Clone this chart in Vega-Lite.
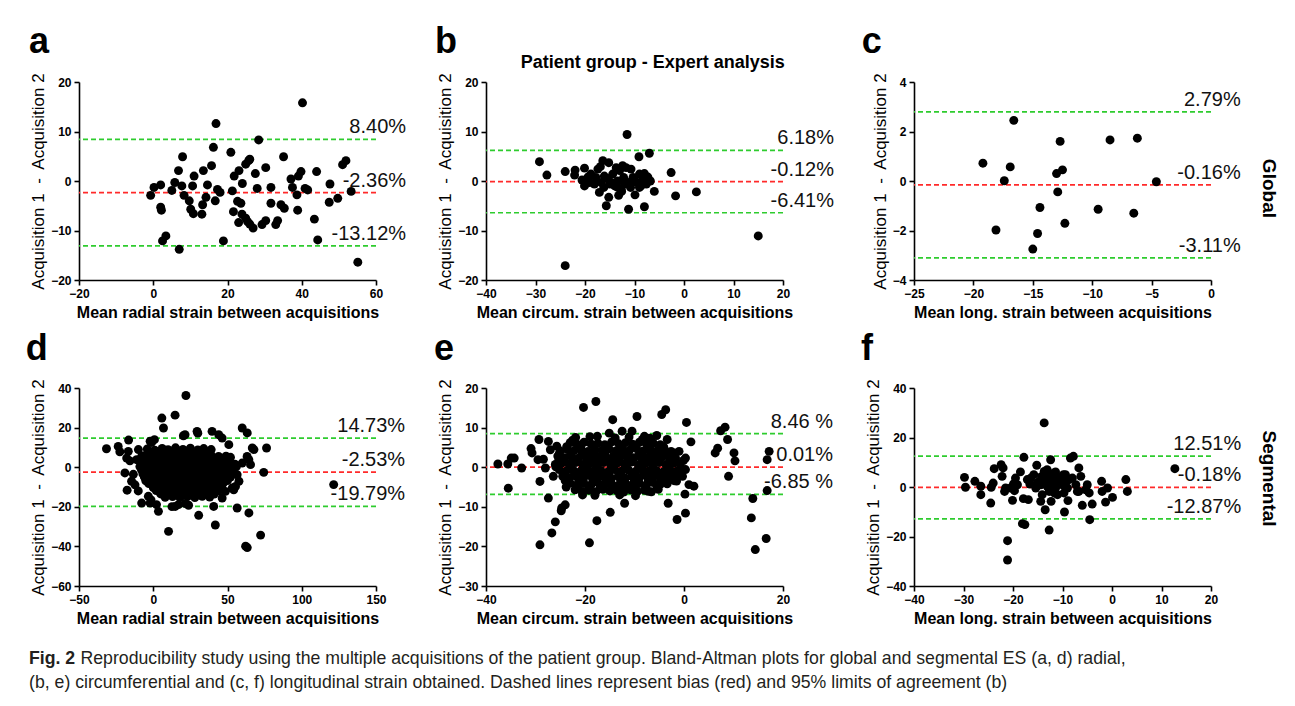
{
"$schema": "https://vega.github.io/schema/vega-lite/v6.json",
"background": "white",
"padding": {"left": 25, "top": 23, "right": 5, "bottom": 2},
"config": {
 "view": {"stroke": null},
 "font": "Liberation Sans",
 "axis": {"grid": false, "domainColor": "black", "domainWidth": 1.6, "tickColor": "black", "tickWidth": 1.6, "tickSize": 5, "tickCount": 20, "labelFont": "Liberation Sans", "labelFontSize": 12, "labelFontWeight": "bold", "labelColor": "black", "labelPadding": 3, "labelFlush": false, "labelOverlap": false, "titleFont": "Liberation Sans", "titleColor": "black"},
 "axisX": {"titleFontSize": 16, "titleFontWeight": "bold", "titlePadding": 5},
 "axisY": {"titleFontSize": 17, "titleFontWeight": "normal", "titlePadding": 3}
},
"datasets": {
 "pa": [{"x":-0.7,"y":-2.9},{"x":0.2,"y":-1.3},{"x":2.0,"y":-0.8},{"x":2.0,"y":-5.3},{"x":2.2,"y":-5.9},{"x":2.5,"y":-12.1},{"x":3.4,"y":-11.1},{"x":5.0,"y":-1.9},{"x":5.8,"y":-0.3},{"x":6.8,"y":2.1},{"x":7.0,"y":-13.8},{"x":7.9,"y":4.9},{"x":7.7,"y":-1.0},{"x":8.3,"y":-2.9},{"x":9.7,"y":-4.0},{"x":10.1,"y":-5.7},{"x":10.6,"y":-1.0},{"x":10.8,"y":-6.6},{"x":11.0,"y":1.0},{"x":13.1,"y":-6.7},{"x":13.3,"y":-4.8},{"x":13.5,"y":2.1},{"x":14.2,"y":-3.3},{"x":14.6,"y":-0.8},{"x":15.7,"y":3.1},{"x":16.2,"y":6.8},{"x":16.7,"y":-4.0},{"x":16.9,"y":11.6},{"x":17.3,"y":-1.7},{"x":18.0,"y":-2.3},{"x":18.9,"y":-12.1},{"x":20.9,"y":5.8},{"x":21.3,"y":-2.0},{"x":21.6,"y":-6.2},{"x":21.8,"y":1.0},{"x":22.7,"y":-4.1},{"x":23.0,"y":-8.4},{"x":23.1,"y":2.1},{"x":23.6,"y":-4.5},{"x":23.9,"y":-6.7},{"x":24.0,"y":-0.5},{"x":24.9,"y":-7.5},{"x":24.9,"y":3.4},{"x":25.7,"y":4.1},{"x":26.0,"y":4.4},{"x":25.4,"y":-8.2},{"x":26.0,"y":-8.7},{"x":26.9,"y":-9.5},{"x":27.5,"y":1.5},{"x":28.0,"y":-1.5},{"x":28.4,"y":8.3},{"x":29.3,"y":-8.8},{"x":30.3,"y":2.7},{"x":30.3,"y":-8.0},{"x":31.7,"y":-1.3},{"x":31.7,"y":-4.5},{"x":33.0,"y":-8.8},{"x":33.5,"y":-8.0},{"x":34.4,"y":-4.8},{"x":35.1,"y":4.9},{"x":35.3,"y":-5.5},{"x":37.1,"y":0.4},{"x":37.5,"y":-1.3},{"x":38.7,"y":-2.8},{"x":38.9,"y":-5.9},{"x":39.1,"y":1.0},{"x":39.8,"y":1.9},{"x":40.2,"y":15.8},{"x":40.9,"y":-1.5},{"x":41.6,"y":-1.8},{"x":43.4,"y":-7.7},{"x":44.0,"y":1.9},{"x":44.3,"y":-11.9},{"x":47.6,"y":-0.6},{"x":47.4,"y":-4.3},{"x":49.7,"y":-3.5},{"x":51.0,"y":3.3},{"x":51.9,"y":4.1},{"x":53.3,"y":-2.1},{"x":55.1,"y":-16.4}],
 "pb": [{"x":-29.2,"y":3.9},{"x":-27.7,"y":1.2},{"x":-24.0,"y":1.9},{"x":-24.0,"y":-17.1},{"x":-22.0,"y":2.2},{"x":-22.1,"y":1.2},{"x":-20.6,"y":0.2},{"x":-20.1,"y":2.6},{"x":-20.1,"y":-1.0},{"x":-19.1,"y":-0.3},{"x":-18.8,"y":1.4},{"x":-18.1,"y":-0.6},{"x":-17.4,"y":2.4},{"x":-17.1,"y":-2.3},{"x":-16.9,"y":2.9},{"x":-16.4,"y":4.1},{"x":-16.2,"y":-1.3},{"x":-15.7,"y":-5.0},{"x":-15.4,"y":0.5},{"x":-15.2,"y":-3.3},{"x":-15.2,"y":3.7},{"x":-14.7,"y":-0.3},{"x":-14.0,"y":-1.0},{"x":-13.7,"y":2.7},{"x":-13.4,"y":0.0},{"x":-13.2,"y":-2.9},{"x":-12.7,"y":-1.7},{"x":-12.4,"y":3.1},{"x":-12.2,"y":0.7},{"x":-11.7,"y":2.7},{"x":-11.5,"y":9.4},{"x":-11.3,"y":-0.3},{"x":-11.2,"y":-5.7},{"x":-10.8,"y":-1.3},{"x":-10.7,"y":2.4},{"x":-10.3,"y":0.7},{"x":-9.9,"y":-2.8},{"x":-9.5,"y":-0.3},{"x":-9.1,"y":4.9},{"x":-9.0,"y":1.4},{"x":-8.7,"y":-1.0},{"x":-8.3,"y":0.5},{"x":-8.0,"y":-5.2},{"x":-8.0,"y":1.5},{"x":-7.6,"y":-0.6},{"x":-7.3,"y":0.8},{"x":-7.0,"y":5.6},{"x":-6.8,"y":0.0},{"x":-6.0,"y":-2.1},{"x":-2.6,"y":1.7},{"x":-1.7,"y":-3.0},{"x":2.5,"y":-2.2},{"x":15.0,"y":-11.1},{"x":-19.4,"y":0.8},{"x":-17.8,"y":0.7},{"x":-16.1,"y":1.0},{"x":-14.4,"y":1.4},{"x":-13.0,"y":2.1},{"x":-12.0,"y":-0.6},{"x":-10.0,"y":0.0},{"x":-13.4,"y":-1.3},{"x":-15.0,"y":-0.6},{"x":-16.7,"y":-0.3},{"x":-9.0,"y":-1.3},{"x":-12.6,"y":-2.1}],
 "pc": [{"x":-19.2,"y":0.72},{"x":-18.1,"y":-1.98},{"x":-17.4,"y":0.01},{"x":-16.9,"y":0.57},{"x":-16.6,"y":2.45},{"x":-15.0,"y":-2.75},{"x":-14.6,"y":-2.12},{"x":-14.4,"y":-1.07},{"x":-13.0,"y":0.3},{"x":-12.9,"y":-0.44},{"x":-12.7,"y":1.6},{"x":-12.5,"y":0.45},{"x":-12.3,"y":-1.71},{"x":-9.5,"y":-1.14},{"x":-8.5,"y":1.66},{"x":-6.5,"y":-1.3},{"x":-6.2,"y":1.73},{"x":-4.6,"y":-0.03}],
 "pd": [{"x":-31.5,"y":9.3},{"x":-23.6,"y":10.5},{"x":-22.5,"y":7.8},{"x":-16.6,"y":13.7},{"x":-16.8,"y":8.0},{"x":-17.9,"y":4.6},{"x":-15.7,"y":3.2},{"x":-10.0,"y":8.9},{"x":-11.2,"y":3.8},{"x":-19.1,"y":-2.9},{"x":-13.4,"y":-3.6},{"x":-14.6,"y":-7.1},{"x":-12.3,"y":-8.9},{"x":-17.6,"y":-11.6},{"x":-10.1,"y":-12.0},{"x":-7.8,"y":-18.1},{"x":-3.3,"y":-14.7},{"x":-2.1,"y":13.1},{"x":0.8,"y":13.9},{"x":-1.1,"y":12.5},{"x":5.8,"y":24.8},{"x":6.9,"y":19.8},{"x":14.7,"y":26.3},{"x":22.0,"y":36.2},{"x":3.5,"y":-22.3},{"x":10.3,"y":-32.4},{"x":14.8,"y":-19.8},{"x":21.6,"y":-18.4},{"x":23.8,"y":-19.2},{"x":30.6,"y":-24.3},{"x":29.5,"y":18.1},{"x":21.4,"y":16.4},{"x":20.3,"y":15.9},{"x":39.6,"y":18.1},{"x":44.1,"y":16.4},{"x":46.4,"y":14.7},{"x":50.9,"y":11.4},{"x":40.7,"y":-19.8},{"x":41.8,"y":-29.2},{"x":56.5,"y":-20.6},{"x":64.4,"y":-23.1},{"x":59.9,"y":19.8},{"x":63.3,"y":17.3},{"x":66.7,"y":9.7},{"x":67.8,"y":8.9},{"x":64.4,"y":3.8},{"x":65.5,"y":1.3},{"x":76.3,"y":9.7},{"x":74.4,"y":-2.6},{"x":62.2,"y":-39.9},{"x":63.3,"y":-40.6},{"x":72.3,"y":-34.3},{"x":57.7,"y":-7.1},{"x":55.4,"y":-9.7},{"x":56.5,"y":-3.8},{"x":59.9,"y":2.1},{"x":52.0,"y":5.0},{"x":121.5,"y":-8.8},{"x":-7.8,"y":5.5},{"x":-5.5,"y":-5.5},{"x":-2.1,"y":-18.1},{"x":2.2,"y":-18.9},{"x":17.0,"y":-18.9},{"x":46.4,"y":-15.6},{"x":48.6,"y":-12.2},{"x":53.2,"y":-10.5},{"x":-1.5,"y":-16.5},{"x":12.6,"y":-19.9},{"x":30.0,"y":17.2},{"x":54.2,"y":-11.4},{"x":63.2,"y":5.4},
  {"x":-4,"y":9.2},{"x":1,"y":8.6},{"x":6,"y":9.5},{"x":10,"y":8.8},{"x":15,"y":9.8},{"x":20,"y":9.0},{"x":25,"y":9.6},{"x":30,"y":8.7},{"x":34,"y":9.4},{"x":39,"y":8.9},
  {"x":-6,"y":5.8},{"x":-1,"y":5.2},{"x":3,"y":5.9},{"x":8,"y":5.3},{"x":12,"y":5.7},{"x":17,"y":5.1},{"x":21,"y":6.0},{"x":26,"y":5.4},{"x":30,"y":5.8},{"x":35,"y":5.2},{"x":39,"y":5.9},{"x":44,"y":5.4},{"x":49,"y":5.6},
  {"x":-7,"y":2.2},{"x":-3,"y":1.7},{"x":2,"y":2.4},{"x":6,"y":1.8},{"x":11,"y":2.1},{"x":15,"y":2.5},{"x":20,"y":1.6},{"x":24,"y":2.3},{"x":29,"y":1.9},{"x":33,"y":2.4},{"x":38,"y":1.7},{"x":42,"y":2.2},{"x":47,"y":1.8},{"x":51,"y":2.3},{"x":55,"y":1.5},
  {"x":-8,"y":-1.2},{"x":-4,"y":-1.8},{"x":1,"y":-1.3},{"x":5,"y":-1.7},{"x":10,"y":-1.1},{"x":14,"y":-1.9},{"x":19,"y":-1.4},{"x":23,"y":-1.6},{"x":28,"y":-1.2},{"x":32,"y":-1.9},{"x":37,"y":-1.3},{"x":41,"y":-1.7},{"x":46,"y":-1.4},{"x":50,"y":-1.8},{"x":54,"y":-1.1},
  {"x":-6,"y":-4.8},{"x":-2,"y":-5.3},{"x":3,"y":-4.9},{"x":7,"y":-5.4},{"x":12,"y":-4.7},{"x":16,"y":-5.2},{"x":21,"y":-4.9},{"x":25,"y":-5.4},{"x":30,"y":-4.8},{"x":34,"y":-5.1},{"x":39,"y":-5.3},{"x":43,"y":-4.8},{"x":48,"y":-5.2},{"x":52,"y":-5.0},
  {"x":-3,"y":-8.3},{"x":2,"y":-8.8},{"x":6,"y":-8.4},{"x":11,"y":-8.7},{"x":15,"y":-8.2},{"x":20,"y":-8.9},{"x":24,"y":-8.4},{"x":29,"y":-8.6},{"x":33,"y":-8.3},{"x":38,"y":-8.8},{"x":42,"y":-8.5},{"x":47,"y":-8.2},
  {"x":2,"y":-11.8},{"x":7,"y":-12.3},{"x":11,"y":-11.9},{"x":16,"y":-12.2},{"x":21,"y":-11.7},{"x":25,"y":-12.4},{"x":30,"y":-12.0},{"x":34,"y":-11.8},{"x":39,"y":-12.3},{"x":44,"y":-12.0},
  {"x":8,"y":-15.2},{"x":13,"y":-14.8},{"x":18,"y":-15.4},{"x":23,"y":-14.9},{"x":28,"y":-15.3},{"x":33,"y":-14.7},{"x":38,"y":-15.1},
  {"x":4,"y":7.4},{"x":13,"y":7.0},{"x":23,"y":7.6},{"x":32,"y":7.1},{"x":-4,"y":3.6},{"x":9,"y":3.9},{"x":18,"y":3.4},{"x":28,"y":3.8},{"x":37,"y":3.5},{"x":46,"y":3.7},{"x":-5,"y":0.2},{"x":8,"y":0.4},{"x":17,"y":0.1},{"x":26,"y":0.5},{"x":35,"y":0.2},{"x":44,"y":0.3},{"x":52,"y":0.1},{"x":0,"y":-3.4},{"x":9,"y":-3.2},{"x":18,"y":-3.6},{"x":27,"y":-3.3},{"x":36,"y":-3.5},{"x":45,"y":-3.1},{"x":4,"y":-6.8},{"x":13,"y":-7.0},{"x":23,"y":-6.6},{"x":32,"y":-6.9},{"x":41,"y":-6.7},{"x":9,"y":-10.2},{"x":19,"y":-10.4},{"x":28,"y":-10.1},{"x":37,"y":-10.3},
  {"x":-2,"y":7.2},{"x":8,"y":7.5},{"x":18,"y":7.3},{"x":27,"y":7.4},{"x":36.5,"y":7.2},{"x":-8,"y":3.8},{"x":0.5,"y":3.5},{"x":5,"y":3.9},{"x":13.5,"y":3.6},{"x":22.5,"y":3.8},{"x":31.5,"y":3.6},{"x":41,"y":3.9},{"x":50,"y":3.5},{"x":-9,"y":0.3},{"x":-1,"y":0.1},{"x":3.5,"y":0.4},{"x":12.5,"y":0.2},{"x":21.5,"y":0.3},{"x":30.5,"y":0.1},{"x":39.5,"y":0.4},{"x":48,"y":0.2},{"x":56,"y":0.3},{"x":-7,"y":-3.3},{"x":-3,"y":-3.5},{"x":4.5,"y":-3.2},{"x":13.5,"y":-3.4},{"x":22.5,"y":-3.3},{"x":31.5,"y":-3.5},{"x":40.5,"y":-3.3},{"x":49.5,"y":-3.4},{"x":53.5,"y":-3.2},{"x":-5,"y":-6.9},{"x":0,"y":-6.7},{"x":8.5,"y":-6.8},{"x":18,"y":-6.9},{"x":27.5,"y":-6.7},{"x":36.5,"y":-6.8},{"x":45.5,"y":-6.9},{"x":50,"y":-6.7},{"x":0,"y":-10.3},{"x":4.5,"y":-10.1},{"x":14,"y":-10.2},{"x":23.5,"y":-10.3},{"x":32.5,"y":-10.2},{"x":41.5,"y":-10.1},{"x":46,"y":-10.3},{"x":5,"y":-13.5},{"x":10.5,"y":-13.7},{"x":15.5,"y":-13.4},{"x":20.5,"y":-13.6},{"x":25.5,"y":-13.5},{"x":30.5,"y":-13.7},{"x":35.5,"y":-13.4},{"x":41,"y":-13.6}],
 "pe": [{"x":-37.6,"y":0.8},{"x":-35.6,"y":0.8},{"x":-34.9,"y":2.3},{"x":-34.3,"y":2.3},{"x":-35.5,"y":-5.3},{"x":-32.8,"y":-0.2},{"x":-30.9,"y":4.7},{"x":-30.7,"y":3.6},{"x":-29.5,"y":1.9},{"x":-29.3,"y":7.0},{"x":-29.1,"y":-3.6},{"x":-29.1,"y":-19.6},{"x":-28.4,"y":2.0},{"x":-27.4,"y":6.5},{"x":-27.0,"y":4.4},{"x":-28.0,"y":-0.2},{"x":-27.4,"y":-7.8},{"x":-26.7,"y":-16.6},{"x":-26.0,"y":-13.8},{"x":-25.7,"y":5.3},{"x":-26.4,"y":-2.3},{"x":-24.7,"y":-10.3},{"x":-24.0,"y":-9.5},{"x":-24.8,"y":-11.0},{"x":-20.3,"y":15.1},{"x":-17.8,"y":16.6},{"x":-19.1,"y":-19.1},{"x":-17.6,"y":-13.5},{"x":-14.9,"y":-11.4},{"x":-14.4,"y":12.0},{"x":-15.1,"y":8.6},{"x":-12.5,"y":9.1},{"x":-12.0,"y":-9.1},{"x":-10.5,"y":9.1},{"x":-9.5,"y":12.8},{"x":-8.4,"y":7.0},{"x":-4.5,"y":13.3},{"x":-3.7,"y":14.5},{"x":-3.4,"y":7.0},{"x":-3.2,"y":-9.1},{"x":-1.4,"y":-13.2},{"x":0.3,"y":-11.6},{"x":0.5,"y":11.3},{"x":1.4,"y":6.4},{"x":0.3,"y":2.3},{"x":0.2,"y":-6.8},{"x":1.0,"y":-4.4},{"x":2.0,"y":-4.8},{"x":6.3,"y":3.6},{"x":6.8,"y":4.8},{"x":7.4,"y":9.2},{"x":8.3,"y":10.1},{"x":8.8,"y":7.0},{"x":9.0,"y":-2.3},{"x":10.1,"y":3.6},{"x":10.3,"y":1.6},{"x":13.9,"y":-7.9},{"x":13.6,"y":-12.8},{"x":14.4,"y":-20.8},{"x":16.6,"y":-18.0},{"x":16.8,"y":-5.9},{"x":16.8,"y":1.9},{"x":17.2,"y":4.0},{"x":-0.3,"y":-2.3},{"x":0.3,"y":-0.6},{"x":-17.5,"y":7.8},{"x":-8.0,"y":7.8},{"x":-5.5,"y":8.0},{"x":-7.2,"y":-6.1},{"x":-20.5,"y":-7.0},{"x":-22.5,"y":6.8},{"x":-1.0,"y":4.0},{"x":-1.5,"y":-3.5},
  {"x":-23.0,"y":6.2},{"x":-21.6,"y":5.8},{"x":-20.2,"y":6.3},{"x":-18.8,"y":5.9},{"x":-17.4,"y":6.1},{"x":-16.0,"y":5.7},{"x":-14.6,"y":6.4},{"x":-13.2,"y":5.9},{"x":-11.8,"y":6.2},{"x":-10.4,"y":5.8},{"x":-9.0,"y":6.3},{"x":-7.6,"y":5.9},{"x":-6.2,"y":6.1},{"x":-4.8,"y":5.7},
  {"x":-25.0,"y":4.1},{"x":-23.6,"y":4.5},{"x":-22.2,"y":4.2},{"x":-20.8,"y":4.6},{"x":-19.4,"y":4.0},{"x":-18.0,"y":4.4},{"x":-16.6,"y":4.2},{"x":-15.2,"y":4.6},{"x":-13.8,"y":4.1},{"x":-12.4,"y":4.4},{"x":-11.0,"y":4.3},{"x":-9.6,"y":4.7},{"x":-8.2,"y":4.1},{"x":-6.8,"y":4.4},{"x":-5.4,"y":4.2},{"x":-4.0,"y":4.6},{"x":-2.6,"y":4.0},
  {"x":-25.5,"y":2.8},{"x":-24.1,"y":2.4},{"x":-22.7,"y":2.7},{"x":-21.3,"y":2.3},{"x":-19.9,"y":2.9},{"x":-18.5,"y":2.5},{"x":-17.1,"y":2.6},{"x":-15.7,"y":2.2},{"x":-14.3,"y":2.8},{"x":-12.9,"y":2.5},{"x":-11.5,"y":2.9},{"x":-10.1,"y":2.4},{"x":-8.7,"y":2.7},{"x":-7.3,"y":2.3},{"x":-5.9,"y":2.8},{"x":-4.5,"y":2.5},{"x":-3.1,"y":2.7},{"x":-1.7,"y":2.3},
  {"x":-26.0,"y":0.7},{"x":-24.6,"y":1.1},{"x":-23.2,"y":0.8},{"x":-21.8,"y":1.2},{"x":-20.4,"y":0.6},{"x":-19.0,"y":1.0},{"x":-17.6,"y":0.8},{"x":-16.2,"y":1.2},{"x":-14.8,"y":0.7},{"x":-13.4,"y":1.1},{"x":-12.0,"y":0.9},{"x":-10.6,"y":1.3},{"x":-9.2,"y":0.6},{"x":-7.8,"y":1.0},{"x":-6.4,"y":0.8},{"x":-5.0,"y":1.2},{"x":-3.6,"y":0.7},{"x":-2.2,"y":1.0},{"x":-0.8,"y":0.9},
  {"x":-25.2,"y":-0.6},{"x":-23.8,"y":-1.0},{"x":-22.4,"y":-0.7},{"x":-21.0,"y":-1.1},{"x":-19.6,"y":-0.5},{"x":-18.2,"y":-0.9},{"x":-16.8,"y":-0.8},{"x":-15.4,"y":-1.2},{"x":-14.0,"y":-0.6},{"x":-12.6,"y":-1.0},{"x":-11.2,"y":-0.7},{"x":-9.8,"y":-1.1},{"x":-8.4,"y":-0.6},{"x":-7.0,"y":-0.9},{"x":-5.6,"y":-0.8},{"x":-4.2,"y":-1.2},{"x":-2.8,"y":-0.7},{"x":-1.4,"y":-1.0},
  {"x":-24.5,"y":-2.3},{"x":-23.1,"y":-2.7},{"x":-21.7,"y":-2.4},{"x":-20.3,"y":-2.8},{"x":-18.9,"y":-2.2},{"x":-17.5,"y":-2.6},{"x":-16.1,"y":-2.5},{"x":-14.7,"y":-2.9},{"x":-13.3,"y":-2.3},{"x":-11.9,"y":-2.7},{"x":-10.5,"y":-2.4},{"x":-9.1,"y":-2.8},{"x":-7.7,"y":-2.2},{"x":-6.3,"y":-2.6},{"x":-4.9,"y":-2.5},{"x":-3.5,"y":-2.9},{"x":-2.1,"y":-2.3},
  {"x":-23.0,"y":-4.0},{"x":-21.6,"y":-4.4},{"x":-20.2,"y":-4.1},{"x":-18.8,"y":-4.5},{"x":-17.4,"y":-3.9},{"x":-16.0,"y":-4.3},{"x":-14.6,"y":-4.2},{"x":-13.2,"y":-4.6},{"x":-11.8,"y":-4.0},{"x":-10.4,"y":-4.4},{"x":-9.0,"y":-4.1},{"x":-7.6,"y":-4.5},{"x":-6.2,"y":-3.9},{"x":-4.8,"y":-4.3},{"x":-3.4,"y":-4.2},
  {"x":-22.0,"y":-5.7},{"x":-20.6,"y":-6.1},{"x":-19.2,"y":-5.8},{"x":-17.8,"y":-6.2},{"x":-16.4,"y":-5.6},{"x":-15.0,"y":-6.0},{"x":-13.6,"y":-5.9},{"x":-12.2,"y":-6.3},{"x":-10.8,"y":-5.7},{"x":-9.4,"y":-6.1},{"x":-8.0,"y":-5.8},{"x":-6.6,"y":-6.2},{"x":-5.2,"y":-5.6},
  {"x":-21.9,"y":7.5},{"x":-19.0,"y":7.7},{"x":-13.9,"y":7.4},{"x":-11.1,"y":7.6},{"x":-6.9,"y":7.3},{"x":-22.9,"y":3.4},{"x":-18.3,"y":3.6},{"x":-13.6,"y":3.3},{"x":-9.0,"y":3.5},{"x":-4.3,"y":3.6},{"x":-24.4,"y":-1.8},{"x":-19.8,"y":-1.6},{"x":-15.1,"y":-1.9},{"x":-10.5,"y":-1.7},{"x":-5.8,"y":-1.6},{"x":-21.5,"y":-5.1},{"x":-16.9,"y":-5.0},{"x":-12.3,"y":-5.2},{"x":-7.7,"y":-5.0},{"x":-18.0,"y":-7.1},{"x":-13.0,"y":-7.0},{"x":-9.8,"y":-7.2},
  {"x":-23.7,"y":5.2},{"x":-20.9,"y":5.1},{"x":-18.1,"y":5.3},{"x":-15.3,"y":5.1},{"x":-12.5,"y":5.2},{"x":-9.7,"y":5.1},{"x":-6.9,"y":5.3},{"x":-4.1,"y":5.1},{"x":-25.2,"y":3.4},{"x":-20.6,"y":3.5},{"x":-16.0,"y":3.4},{"x":-11.3,"y":3.5},{"x":-6.7,"y":3.4},{"x":-2.0,"y":3.5},{"x":-25.3,"y":1.8},{"x":-22.5,"y":1.7},{"x":-19.7,"y":1.8},{"x":-16.9,"y":1.7},{"x":-14.1,"y":1.8},{"x":-11.3,"y":1.7},{"x":-8.5,"y":1.8},{"x":-5.7,"y":1.7},{"x":-2.9,"y":1.8},{"x":-0.1,"y":1.7},{"x":-25.9,"y":0.1},{"x":-23.1,"y":0.0},{"x":-20.3,"y":0.1},{"x":-17.5,"y":0.0},{"x":-14.7,"y":0.1},{"x":-11.9,"y":0.0},{"x":-9.1,"y":0.1},{"x":-6.3,"y":0.0},{"x":-3.5,"y":0.1},{"x":-0.7,"y":0.0},{"x":-22.1,"y":-1.6},{"x":-17.5,"y":-1.7},{"x":-12.8,"y":-1.6},{"x":-8.2,"y":-1.7},{"x":-3.5,"y":-1.6},{"x":-1.0,"y":-1.7},{"x":-24.0,"y":-3.4},{"x":-21.2,"y":-3.3},{"x":-18.4,"y":-3.4},{"x":-15.6,"y":-3.3},{"x":-12.8,"y":-3.4},{"x":-10.0,"y":-3.3},{"x":-7.2,"y":-3.4},{"x":-4.4,"y":-3.3},{"x":-2.0,"y":-3.4},{"x":-23.8,"y":-5.0},{"x":-19.2,"y":-5.1},{"x":-14.6,"y":-5.0},{"x":-10.0,"y":-5.1},{"x":-5.4,"y":-5.0}],
 "pf": [{"x":-29.8,"y":3.9},{"x":-29.6,"y":-0.1},{"x":-27.7,"y":2.3},{"x":-26.5,"y":0.3},{"x":-26.5,"y":-3.1},{"x":-24.5,"y":-6.5},{"x":-24.4,"y":-0.1},{"x":-24.0,"y":1.6},{"x":-23.8,"y":7.4},{"x":-22.4,"y":9.0},{"x":-22.0,"y":7.7},{"x":-22.2,"y":4.3},{"x":-21.7,"y":-1.8},{"x":-21.1,"y":-21.7},{"x":-21.1,"y":-29.5},{"x":-21.5,"y":-0.4},{"x":-20.1,"y":-5.4},{"x":-19.9,"y":1.2},{"x":-19.7,"y":-1.5},{"x":-18.5,"y":6.1},{"x":-18.1,"y":-14.8},{"x":-17.6,"y":-15.2},{"x":-17.8,"y":12.0},{"x":-17.9,"y":-4.7},{"x":-16.9,"y":-5.1},{"x":-17.1,"y":3.0},{"x":-16.6,"y":1.2},{"x":-15.2,"y":8.8},{"x":-15.1,"y":1.6},{"x":-14.4,"y":-5.8},{"x":-14.2,"y":4.3},{"x":-13.5,"y":-9.2},{"x":-13.7,"y":25.9},{"x":-13.1,"y":7.0},{"x":-13.1,"y":0.3},{"x":-12.7,"y":-17.4},{"x":-12.4,"y":11.0},{"x":-12.3,"y":-5.8},{"x":-12.1,"y":3.0},{"x":-11.7,"y":5.7},{"x":-11.4,"y":-0.4},{"x":-11.0,"y":-3.1},{"x":-10.7,"y":3.6},{"x":-10.4,"y":1.2},{"x":-9.8,"y":5.0},{"x":-9.6,"y":-10.1},{"x":-9.2,"y":2.3},{"x":-8.9,"y":-5.5},{"x":-8.4,"y":11.7},{"x":-7.8,"y":12.4},{"x":-8.0,"y":3.6},{"x":-7.3,"y":0.9},{"x":-7.0,"y":-1.8},{"x":-6.7,"y":7.7},{"x":-6.3,"y":4.3},{"x":-6.0,"y":-7.4},{"x":-5.3,"y":-1.1},{"x":-4.6,"y":-2.4},{"x":-4.5,"y":-13.2},{"x":-4.0,"y":-6.9},{"x":-2.1,"y":2.3},{"x":-2.0,"y":-1.8},{"x":-1.3,"y":-6.1},{"x":-0.9,"y":-0.4},{"x":0.1,"y":-4.2},{"x":2.8,"y":3.0},{"x":3.1,"y":-1.8},{"x":12.7,"y":7.4},{"x":-16.4,"y":3.6},{"x":-15.8,"y":5.0},{"x":-15.4,"y":-0.4},{"x":-14.7,"y":2.3},{"x":-13.7,"y":6.3},{"x":-13.4,"y":2.3},{"x":-13.1,"y":4.3},{"x":-12.7,"y":-1.8},{"x":-12.4,"y":1.2},{"x":-11.9,"y":3.6},{"x":-11.4,"y":6.1},{"x":-10.9,"y":1.2},{"x":-10.4,"y":3.9},{"x":-9.8,"y":0.7},{"x":-9.4,"y":5.0},{"x":-9.0,"y":-0.4},{"x":-8.7,"y":3.0},{"x":-14.4,"y":0.9},{"x":-11.7,"y":-2.4},{"x":-14.1,"y":-3.1},{"x":-9.7,"y":-2.4},{"x":-6.7,"y":-1.8},{"x":-5.0,"y":0.9},{"x":-19.1,"y":0.9},{"x":-19.5,"y":3.6},{"x":-20.5,"y":-0.4}],
 "la": [{"v":8.40,"kind":"limit","label":"8.40%"},{"v":-2.36,"kind":"bias","label":"-2.36%"},{"v":-13.12,"kind":"limit","label":"-13.12%"}],
 "lb": [{"v":6.18,"kind":"limit","label":"6.18%"},{"v":-0.12,"kind":"bias","label":"-0.12%"},{"v":-6.41,"kind":"limit","label":"-6.41%"}],
 "lc": [{"v":2.79,"kind":"limit","label":"2.79%"},{"v":-0.16,"kind":"bias","label":"-0.16%"},{"v":-3.11,"kind":"limit","label":"-3.11%"}],
 "ld": [{"v":14.73,"kind":"limit","label":"14.73%"},{"v":-2.53,"kind":"bias","label":"-2.53%"},{"v":-19.79,"kind":"limit","label":"-19.79%"}],
 "le": [{"v":8.46,"kind":"limit","label":"8.46 %"},{"v":0.01,"kind":"bias","label":"0.01%"},{"v":-6.85,"kind":"limit","label":"-6.85 %"}],
 "lf": [{"v":12.51,"kind":"limit","label":"12.51%"},{"v":-0.18,"kind":"bias","label":"-0.18%"},{"v":-12.87,"kind":"limit","label":"-12.87%"}]
},
"spacing": 18,
"vconcat": [
 {
  "columns": 3,
  "align": "each",
  "spacing": {"row": 10, "column": 27},
  "resolve": {"scale": {"x": "independent", "y": "independent"}},
  "concat": [
   {"width": 297, "height": 198, "layer": [
     {"data": {"name": "la"}, "mark": {"type": "rule", "strokeDash": [5, 3], "strokeWidth": 1.7}, "encoding": {"y": {"field": "v", "type": "quantitative"}, "color": {"field": "kind", "type": "nominal", "scale": {"domain": ["limit", "bias"], "range": ["#2ecc2e", "#ff2a2a"]}, "legend": null}}},
     {"data": {"name": "pa"}, "mark": {"type": "circle", "size": 80, "color": "black", "opacity": 1}, "encoding": {
       "x": {"field": "x", "type": "quantitative", "scale": {"domain": [-20, 60], "nice": false, "zero": false}, "axis": {"values": [-20, 0, 20, 40, 60], "format": "d", "tickCount": 20, "title": "Mean radial strain between acquisitions"}},
       "y": {"field": "y", "type": "quantitative", "scale": {"domain": [-20, 20], "nice": false, "zero": false}, "axis": {"values": [-20, -10, 0, 10, 20], "format": "d", "tickCount": 20, "title": "Acquisition 1 \u00a0-\u00a0 Acquisition 2"}}}},
     {"data": {"name": "la"}, "mark": {"type": "text", "align": "right", "baseline": "alphabetic", "dy": -6, "fontSize": 20, "color": "#111111"}, "encoding": {"x": {"datum": 68.1}, "y": {"field": "v", "type": "quantitative"}, "text": {"field": "label"}}},
     {"data": {"values": [{"letter": "a"}]}, "mark": {"type": "text", "align": "left", "baseline": "alphabetic", "fontSize": 36, "fontWeight": "bold", "color": "black"}, "encoding": {"x": {"datum": -33.5}, "y": {"datum": 25.9}, "text": {"field": "letter"}}}
   ]},
   {"width": 297, "height": 198, "layer": [
     {"data": {"name": "lb"}, "mark": {"type": "rule", "strokeDash": [5, 3], "strokeWidth": 1.7}, "encoding": {"y": {"field": "v", "type": "quantitative"}, "color": {"field": "kind", "type": "nominal", "scale": {"domain": ["limit", "bias"], "range": ["#2ecc2e", "#ff2a2a"]}, "legend": null}}},
     {"data": {"name": "pb"}, "mark": {"type": "circle", "size": 80, "color": "black", "opacity": 1}, "encoding": {
       "x": {"field": "x", "type": "quantitative", "scale": {"domain": [-40, 20], "nice": false, "zero": false}, "axis": {"values": [-40, -30, -20, -10, 0, 10, 20], "format": "d", "tickCount": 20, "title": "Mean circum. strain between acquisitions"}},
       "y": {"field": "y", "type": "quantitative", "scale": {"domain": [-20, 20], "nice": false, "zero": false}, "axis": {"values": [-20, -10, 0, 10, 20], "format": "d", "tickCount": 20, "title": "Acquisition 1 \u00a0-\u00a0 Acquisition 2"}}}},
     {"data": {"name": "lb"}, "mark": {"type": "text", "align": "right", "baseline": "alphabetic", "dy": -6, "fontSize": 20, "color": "#111111"}, "encoding": {"x": {"datum": 30.3}, "y": {"field": "v", "type": "quantitative"}, "text": {"field": "label"}}},
     {"data": {"values": [{"letter": "b", "head": "Patient group - Expert analysis"}]}, "mark": {"type": "text", "align": "left", "baseline": "alphabetic", "fontSize": 36, "fontWeight": "bold", "color": "black"}, "encoding": {"x": {"datum": -50.3}, "y": {"datum": 25.9}, "text": {"field": "letter"}}},
     {"data": {"values": [{"letter": "b", "head": "Patient group - Expert analysis"}]}, "mark": {"type": "text", "align": "center", "baseline": "alphabetic", "fontSize": 18, "fontWeight": "bold", "color": "black"}, "encoding": {"x": {"datum": -6.3}, "y": {"datum": 22.9}, "text": {"field": "head"}}}
   ]},
   {"width": 297, "height": 198, "layer": [
     {"data": {"name": "lc"}, "mark": {"type": "rule", "strokeDash": [5, 3], "strokeWidth": 1.7}, "encoding": {"y": {"field": "v", "type": "quantitative"}, "color": {"field": "kind", "type": "nominal", "scale": {"domain": ["limit", "bias"], "range": ["#2ecc2e", "#ff2a2a"]}, "legend": null}}},
     {"data": {"name": "pc"}, "mark": {"type": "circle", "size": 80, "color": "black", "opacity": 1}, "encoding": {
       "x": {"field": "x", "type": "quantitative", "scale": {"domain": [-25, 0], "nice": false, "zero": false}, "axis": {"values": [-25, -20, -15, -10, -5, 0], "format": "d", "tickCount": 20, "title": "Mean long. strain between acquisitions"}},
       "y": {"field": "y", "type": "quantitative", "scale": {"domain": [-4, 4], "nice": false, "zero": false}, "axis": {"values": [-4, -2, 0, 2, 4], "format": "d", "tickCount": 20, "title": "Acquisition 1 \u00a0-\u00a0 Acquisition 2"}}}},
     {"data": {"name": "lc"}, "mark": {"type": "text", "align": "right", "baseline": "alphabetic", "dy": -6, "fontSize": 20, "color": "#111111"}, "encoding": {"x": {"datum": 2.5}, "y": {"field": "v", "type": "quantitative"}, "text": {"field": "label"}}},
     {"data": {"values": [{"letter": "c", "row": "Global"}]}, "mark": {"type": "text", "align": "left", "baseline": "alphabetic", "fontSize": 36, "fontWeight": "bold", "color": "black"}, "encoding": {"x": {"datum": -29.4}, "y": {"datum": 5.17}, "text": {"field": "letter"}}},
     {"data": {"values": [{"letter": "c", "row": "Global"}]}, "mark": {"type": "text", "align": "center", "baseline": "middle", "angle": 90, "fontSize": 19, "fontWeight": "bold", "color": "black"}, "encoding": {"x": {"datum": 4.9}, "y": {"datum": -0.3}, "text": {"field": "row"}}}
   ]},
   {"width": 297, "height": 198, "layer": [
     {"data": {"name": "ld"}, "mark": {"type": "rule", "strokeDash": [5, 3], "strokeWidth": 1.7}, "encoding": {"y": {"field": "v", "type": "quantitative"}, "color": {"field": "kind", "type": "nominal", "scale": {"domain": ["limit", "bias"], "range": ["#2ecc2e", "#ff2a2a"]}, "legend": null}}},
     {"data": {"name": "pd"}, "mark": {"type": "circle", "size": 80, "color": "black", "opacity": 1}, "encoding": {
       "x": {"field": "x", "type": "quantitative", "scale": {"domain": [-50, 150], "nice": false, "zero": false}, "axis": {"values": [-50, 0, 50, 100, 150], "format": "d", "tickCount": 20, "title": "Mean radial strain between acquisitions"}},
       "y": {"field": "y", "type": "quantitative", "scale": {"domain": [-60, 40], "nice": false, "zero": false}, "axis": {"values": [-60, -40, -20, 0, 20, 40], "format": "d", "tickCount": 20, "title": "Acquisition 1 \u00a0-\u00a0 Acquisition 2"}}}},
     {"data": {"name": "ld"}, "mark": {"type": "text", "align": "right", "baseline": "alphabetic", "dy": -6, "fontSize": 20, "color": "#111111"}, "encoding": {"x": {"datum": 169.6}, "y": {"field": "v", "type": "quantitative"}, "text": {"field": "label"}}},
     {"data": {"values": [{"letter": "d"}]}, "mark": {"type": "text", "align": "left", "baseline": "alphabetic", "fontSize": 36, "fontWeight": "bold", "color": "black"}, "encoding": {"x": {"datum": -85.8}, "y": {"datum": 54.1}, "text": {"field": "letter"}}}
   ]},
   {"width": 297, "height": 198, "layer": [
     {"data": {"name": "le"}, "mark": {"type": "rule", "strokeDash": [5, 3], "strokeWidth": 1.7}, "encoding": {"y": {"field": "v", "type": "quantitative"}, "color": {"field": "kind", "type": "nominal", "scale": {"domain": ["limit", "bias"], "range": ["#2ecc2e", "#ff2a2a"]}, "legend": null}}},
     {"data": {"name": "pe"}, "mark": {"type": "circle", "size": 80, "color": "black", "opacity": 1}, "encoding": {
       "x": {"field": "x", "type": "quantitative", "scale": {"domain": [-40, 20], "nice": false, "zero": false}, "axis": {"values": [-40, -20, 0, 20], "format": "d", "tickCount": 20, "title": "Mean circum. strain between acquisitions"}},
       "y": {"field": "y", "type": "quantitative", "scale": {"domain": [-30, 20], "nice": false, "zero": false}, "axis": {"values": [-30, -20, -10, 0, 10, 20], "format": "d", "tickCount": 20, "title": "Acquisition 1 \u00a0-\u00a0 Acquisition 2"}}}},
     {"data": {"name": "le"}, "mark": {"type": "text", "align": "right", "baseline": "alphabetic", "dy": -6, "fontSize": 20, "color": "#111111"}, "encoding": {"x": {"datum": 30.1}, "y": {"field": "v", "type": "quantitative"}, "text": {"field": "label"}}},
     {"data": {"values": [{"letter": "e"}]}, "mark": {"type": "text", "align": "left", "baseline": "alphabetic", "fontSize": 36, "fontWeight": "bold", "color": "black"}, "encoding": {"x": {"datum": -50.5}, "y": {"datum": 27.1}, "text": {"field": "letter"}}}
   ]},
   {"width": 297, "height": 198, "layer": [
     {"data": {"name": "lf"}, "mark": {"type": "rule", "strokeDash": [5, 3], "strokeWidth": 1.7}, "encoding": {"y": {"field": "v", "type": "quantitative"}, "color": {"field": "kind", "type": "nominal", "scale": {"domain": ["limit", "bias"], "range": ["#2ecc2e", "#ff2a2a"]}, "legend": null}}},
     {"data": {"name": "pf"}, "mark": {"type": "circle", "size": 80, "color": "black", "opacity": 1}, "encoding": {
       "x": {"field": "x", "type": "quantitative", "scale": {"domain": [-40, 20], "nice": false, "zero": false}, "axis": {"values": [-40, -30, -20, -10, 0, 10, 20], "format": "d", "tickCount": 20, "title": "Mean long. strain between acquisitions"}},
       "y": {"field": "y", "type": "quantitative", "scale": {"domain": [-40, 40], "nice": false, "zero": false}, "axis": {"values": [-40, -20, 0, 20, 40], "format": "d", "tickCount": 20, "title": "Acquisition 1 \u00a0-\u00a0 Acquisition 2"}}}},
     {"data": {"name": "lf"}, "mark": {"type": "text", "align": "right", "baseline": "alphabetic", "dy": -6, "fontSize": 20, "color": "#111111"}, "encoding": {"x": {"datum": 26.1}, "y": {"field": "v", "type": "quantitative"}, "text": {"field": "label"}}},
     {"data": {"values": [{"letter": "f", "row": "Segmental"}]}, "mark": {"type": "text", "align": "left", "baseline": "alphabetic", "fontSize": 36, "fontWeight": "bold", "color": "black"}, "encoding": {"x": {"datum": -50.7}, "y": {"datum": 51.3}, "text": {"field": "letter"}}},
     {"data": {"values": [{"letter": "f", "row": "Segmental"}]}, "mark": {"type": "text", "align": "center", "baseline": "middle", "angle": 90, "fontSize": 19, "fontWeight": "bold", "color": "black"}, "encoding": {"x": {"datum": 31.8}, "y": {"datum": 3.4}, "text": {"field": "row"}}}
   ]}
  ]
 },
 {
  "width": 1150, "height": 54,
  "layer": [
   {"data": {"values": [{"line": 1, "text": "Fig. 2"}]}, "mark": {"type": "text", "align": "left", "baseline": "middle", "dx": -50, "fontSize": 17.7, "fontWeight": "bold", "color": "#231f20"},
    "encoding": {"x": {"datum": 0, "scale": {"domain": [0, 1]}, "axis": null}, "y": {"field": "line", "type": "quantitative", "scale": {"domain": [0.5, 2.5], "reverse": true}, "axis": null}, "text": {"field": "text"}}},
   {"data": {"values": [{"line": 1, "text": "Reproducibility study using the multiple acquisitions of the patient group. Bland-Altman plots for global and segmental ES (a, d) radial,"}]}, "mark": {"type": "text", "align": "left", "baseline": "middle", "dx": 1.5, "fontSize": 17.7, "color": "#231f20"},
    "encoding": {"x": {"datum": 0}, "y": {"field": "line", "type": "quantitative"}, "text": {"field": "text"}}},
   {"data": {"values": [{"line": 2, "text": "(b, e) circumferential and (c, f) longitudinal strain obtained. Dashed lines represent bias (red) and 95% limits of agreement (b)"}]}, "mark": {"type": "text", "align": "left", "baseline": "middle", "dx": -50, "fontSize": 17.7, "color": "#231f20"},
    "encoding": {"x": {"datum": 0}, "y": {"field": "line", "type": "quantitative"}, "text": {"field": "text"}}}
  ]
 }
]
}
